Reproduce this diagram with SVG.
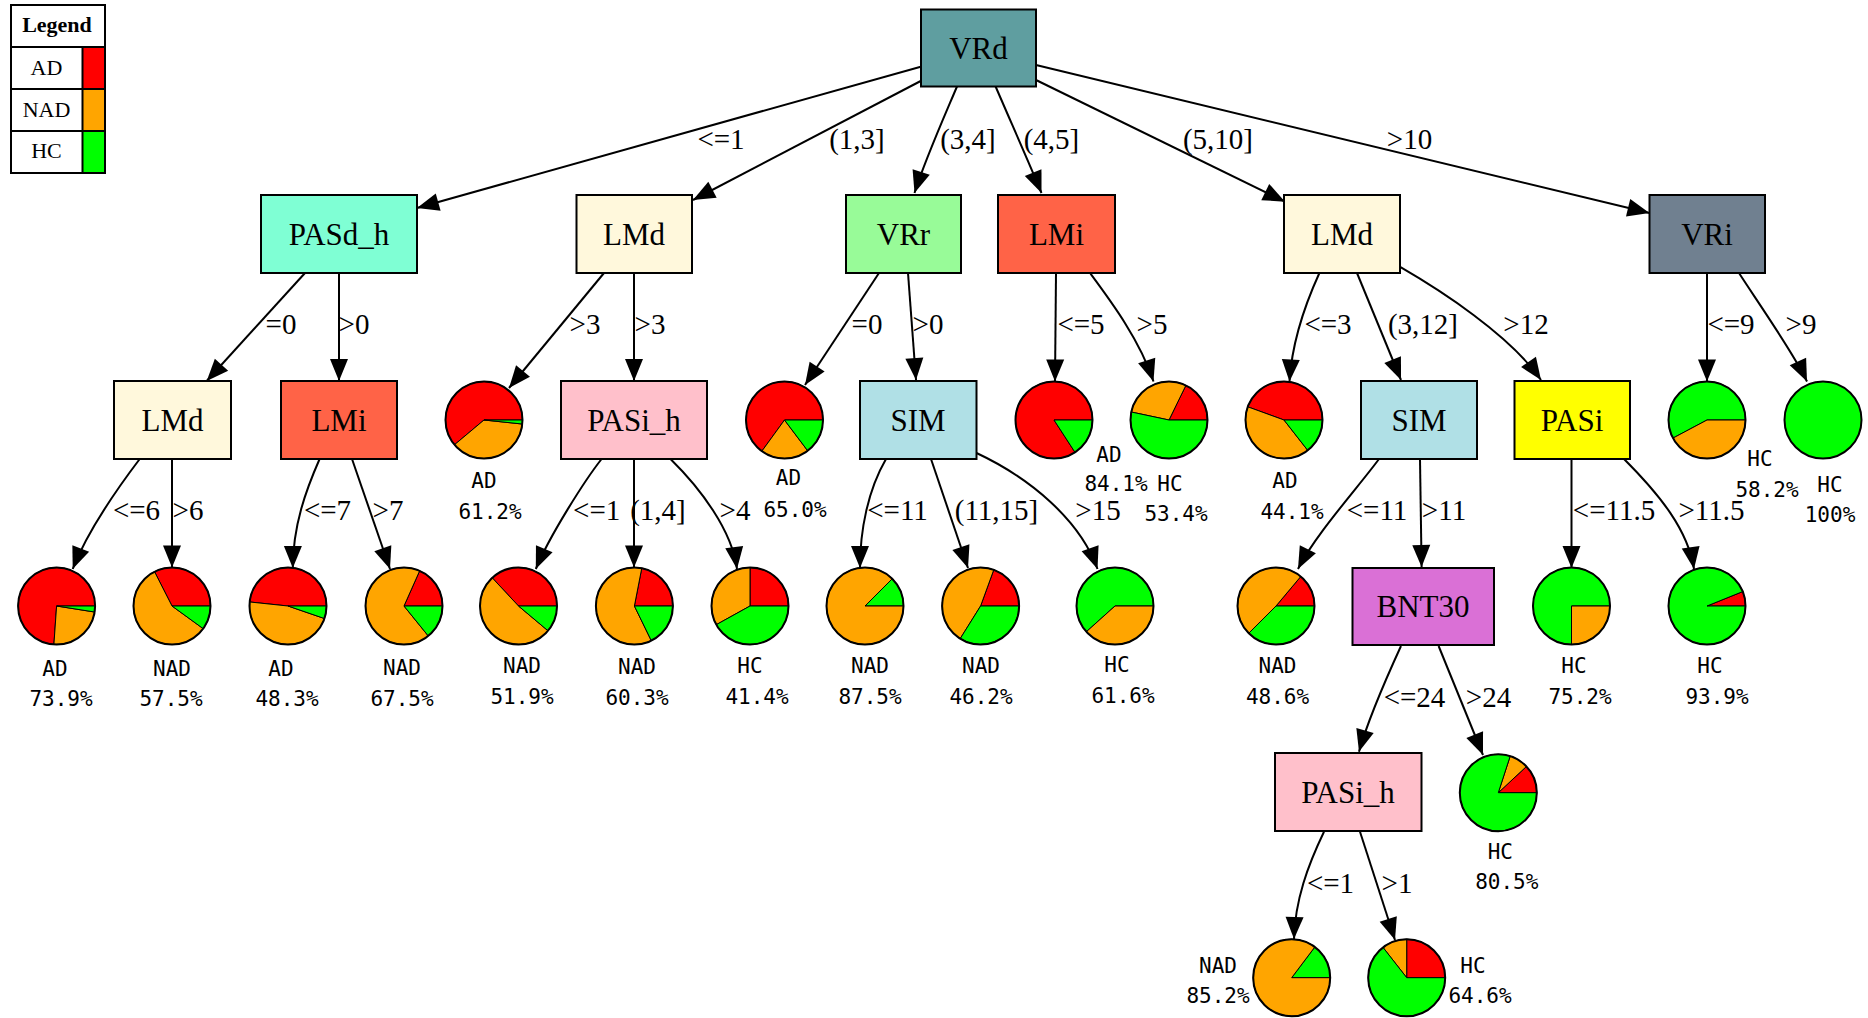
<svg xmlns="http://www.w3.org/2000/svg" width="1868" height="1018" viewBox="0 0 1868 1018">
<style>
.bx{stroke:#000;stroke-width:2}
.nl{font-family:"Liberation Serif",serif;font-size:31px;text-anchor:middle;fill:#000}
.el{font-family:"Liberation Serif",serif;font-size:29px;text-anchor:middle;fill:#000}
.pl{font-family:"DejaVu Sans Mono",monospace;font-size:21px;text-anchor:middle;fill:#000}
.lg{font-family:"Liberation Serif",serif;font-size:22px;text-anchor:middle;fill:#000}
.e{fill:none;stroke:#000;stroke-width:2;marker-end:url(#ah)}
.r{fill:#ff0000;stroke:#000;stroke-width:1}
.o{fill:#ffa500;stroke:#000;stroke-width:1}
.g{fill:#00ff00;stroke:#000;stroke-width:1}
.pc{fill:none;stroke:#000;stroke-width:2}
</style>
<defs>
<marker id="ah" markerWidth="22" markerHeight="18" refX="22" refY="9" orient="auto" markerUnits="userSpaceOnUse" overflow="visible"><path d="M0,0 L22,9 L0,18 z" fill="#000"/></marker>
</defs>
<rect width="1868" height="1018" fill="#fff"/>

<g id="legend">
<rect x="83" y="47" width="22" height="42" fill="#ff0000"/>
<rect x="83" y="89" width="22" height="42" fill="#ffa500"/>
<rect x="83" y="131" width="22" height="42" fill="#00ff00"/>
<rect x="11" y="5" width="94" height="168" fill="none" stroke="#000" stroke-width="2"/>
<path d="M11 47H105M11 89H105M11 131H105M82.5 47V173" stroke="#000" stroke-width="2" fill="none"/>
<text class="lg" x="57" y="32" font-weight="bold">Legend</text>
<text class="lg" x="46.5" y="75">AD</text>
<text class="lg" x="46.5" y="116.5">NAD</text>
<text class="lg" x="46.5" y="157.5">HC</text>
</g>

<g id="connectors">
<path class="e" d="M920.7 66.7L417 208"/>
<path class="e" d="M920.7 81L693 200"/>
<path class="e" d="M957 86.5C945 115 925 160 914.5 193"/>
<path class="e" d="M995.6 86.5C1010 120 1030 165 1041.5 193"/>
<path class="e" d="M1036 80L1285 201.7"/>
<path class="e" d="M1036 65L1649.5 213"/>
<path class="e" d="M305 273L206.7 381"/>
<path class="e" d="M339 273L339 381"/>
<path class="e" d="M604 273L509 388"/>
<path class="e" d="M634 273L634 381"/>
<path class="e" d="M879 273L805 385"/>
<path class="e" d="M908 273L916 380"/>
<path class="e" d="M1056 273L1055 381.5"/>
<path class="e" d="M1090 273C1110 300 1140 340 1153.5 381.5"/>
<path class="e" d="M1319.4 273C1308 298 1292 340 1289.5 381.5"/>
<path class="e" d="M1357 273L1401 380"/>
<path class="e" d="M1399.7 266.7C1440 290 1510 335 1541 380"/>
<path class="e" d="M1707 273L1707 381.5"/>
<path class="e" d="M1739 273C1755 298 1795 355 1807 381.5"/>
<path class="e" d="M139.7 459C120 485 88 530 72.7 569"/>
<path class="e" d="M172 459L172 567.5"/>
<path class="e" d="M319.6 459C306 490 293 525 292.8 568"/>
<path class="e" d="M352 459L390 569"/>
<path class="e" d="M601.6 459C585 480 550 535 535.8 569"/>
<path class="e" d="M634 459L634 567.5"/>
<path class="e" d="M670.5 459C700 488 732 530 737 569"/>
<path class="e" d="M886 459C868 490 860 530 860 568"/>
<path class="e" d="M931 459L968 568"/>
<path class="e" d="M976.5 453C1030 478 1080 520 1097.5 569"/>
<path class="e" d="M1379 459C1360 485 1315 535 1298 569"/>
<path class="e" d="M1420 459L1421.6 567"/>
<path class="e" d="M1571.5 459L1571.5 568"/>
<path class="e" d="M1624 459C1660 495 1688 530 1694 569"/>
<path class="e" d="M1401 646C1390 670 1368 720 1359 751.7"/>
<path class="e" d="M1438.6 646L1483 755"/>
<path class="e" d="M1324 831.7C1308 865 1295 900 1294 939"/>
<path class="e" d="M1360 831.7L1395 940"/>
<text class="el" x="721" y="148.5">&lt;=1</text>
<text class="el" x="857" y="148.5">(1,3]</text>
<text class="el" x="968" y="148.5">(3,4]</text>
<text class="el" x="1051.5" y="148.5">(4,5]</text>
<text class="el" x="1218" y="148.5">(5,10]</text>
<text class="el" x="1409.5" y="148.5">&gt;10</text>
<text class="el" x="281" y="333.5">=0</text>
<text class="el" x="354" y="333.5">&gt;0</text>
<text class="el" x="585" y="333.5">&gt;3</text>
<text class="el" x="650" y="333.5">&gt;3</text>
<text class="el" x="867" y="333.5">=0</text>
<text class="el" x="928" y="333.5">&gt;0</text>
<text class="el" x="1081" y="333.5">&lt;=5</text>
<text class="el" x="1152" y="333.5">&gt;5</text>
<text class="el" x="1328" y="333.5">&lt;=3</text>
<text class="el" x="1423" y="333.5">(3,12]</text>
<text class="el" x="1526" y="333.5">&gt;12</text>
<text class="el" x="1731" y="333.5">&lt;=9</text>
<text class="el" x="1801" y="333.5">&gt;9</text>
<text class="el" x="136.5" y="520">&lt;=6</text>
<text class="el" x="188" y="520">&gt;6</text>
<text class="el" x="327.5" y="520">&lt;=7</text>
<text class="el" x="388" y="520">&gt;7</text>
<text class="el" x="596.7" y="520">&lt;=1</text>
<text class="el" x="658" y="520">(1,4]</text>
<text class="el" x="735" y="520">&gt;4</text>
<text class="el" x="897.5" y="520">&lt;=11</text>
<text class="el" x="996.5" y="520">(11,15]</text>
<text class="el" x="1098" y="520">&gt;15</text>
<text class="el" x="1377" y="520">&lt;=11</text>
<text class="el" x="1444" y="520">&gt;11</text>
<text class="el" x="1614" y="520">&lt;=11.5</text>
<text class="el" x="1711.5" y="520">&gt;11.5</text>
<text class="el" x="1414.5" y="707">&lt;=24</text>
<text class="el" x="1488.5" y="707">&gt;24</text>
<text class="el" x="1330.5" y="893">&lt;=1</text>
<text class="el" x="1397" y="893">&gt;1</text>
</g>

<g id="n_VRd"><rect class="bx" x="921" y="9.5" width="115" height="77" fill="#5f9ea0"/><text class="nl" x="978.5" y="58.5">VRd</text></g>
<g id="n_PASd_h"><rect class="bx" x="261" y="195" width="156" height="78" fill="#7fffd4"/><text class="nl" x="339" y="244.5">PASd_h</text></g>
<g id="n_LMd1"><rect class="bx" x="576.5" y="195" width="115.5" height="78" fill="#fff8dc"/><text class="nl" x="634" y="244.5">LMd</text></g>
<g id="n_VRr"><rect class="bx" x="846" y="195" width="115" height="78" fill="#98fb98"/><text class="nl" x="903.5" y="244.5">VRr</text></g>
<g id="n_LMi1"><rect class="bx" x="998" y="195" width="117" height="78" fill="#ff6347"/><text class="nl" x="1056.5" y="244.5">LMi</text></g>
<g id="n_LMd3"><rect class="bx" x="1284" y="195" width="116" height="78" fill="#fff8dc"/><text class="nl" x="1342" y="244.5">LMd</text></g>
<g id="n_VRi"><rect class="bx" x="1649.5" y="195" width="115.5" height="78" fill="#708090"/><text class="nl" x="1707" y="244.5">VRi</text></g>
<g id="n_LMd2"><rect class="bx" x="114" y="381" width="117" height="78" fill="#fff8dc"/><text class="nl" x="172.5" y="430.5">LMd</text></g>
<g id="n_LMi2"><rect class="bx" x="281" y="381" width="116" height="78" fill="#ff6347"/><text class="nl" x="339" y="430.5">LMi</text></g>
<g id="n_PASi_h1"><rect class="bx" x="561" y="381" width="146" height="78" fill="#ffc0cb"/><text class="nl" x="634" y="430.5">PASi_h</text></g>
<g id="n_SIM1"><rect class="bx" x="860" y="381" width="116.5" height="78" fill="#b0e0e6"/><text class="nl" x="918" y="430.5">SIM</text></g>
<g id="n_SIM2"><rect class="bx" x="1361" y="381" width="116" height="78" fill="#b0e0e6"/><text class="nl" x="1419" y="430.5">SIM</text></g>
<g id="n_PASi"><rect class="bx" x="1514.5" y="381" width="115.5" height="78" fill="#ffff00"/><text class="nl" x="1572" y="430.5">PASi</text></g>
<g id="n_BNT30"><rect class="bx" x="1352.5" y="568" width="141.5" height="77" fill="#da70d6"/><text class="nl" x="1423" y="617">BNT30</text></g>
<g id="n_PASi_h2"><rect class="bx" x="1275" y="753" width="146.5" height="78" fill="#ffc0cb"/><text class="nl" x="1348" y="802.5">PASi_h</text></g>

<g id="p_L1" transform="translate(484,420)">
<path class="r" d="M0 0L38.5 0A38.5 38.5 0 1 0 -29.49 24.75Z"/>
<path class="o" d="M0 0L-29.49 24.75A38.5 38.5 0 0 0 38.29 4.02Z"/>
<path class="g" d="M0 0L38.29 4.02A38.5 38.5 0 0 0 38.5 0Z"/>
<circle class="pc" r="38.5"/>
<text class="pl" x="0" y="68">AD</text><text class="pl" x="6" y="99">61.2%</text>
</g>
<g id="p_L2" transform="translate(784.5,420)">
<path class="r" d="M0 0L38.5 0A38.5 38.5 0 1 0 -22.63 31.15Z"/>
<path class="o" d="M0 0L-22.63 31.15A38.5 38.5 0 0 0 23.17 30.75Z"/>
<path class="g" d="M0 0L23.17 30.75A38.5 38.5 0 0 0 38.5 0Z"/>
<circle class="pc" r="38.5"/>
<text class="pl" x="4" y="65">AD</text><text class="pl" x="10.5" y="96.5">65.0%</text>
</g>
<g id="p_L3" transform="translate(1054,420)">
<path class="r" d="M0 0L38.5 0A38.5 38.5 0 1 0 20.97 32.29Z"/>
<path class="g" d="M0 0L20.97 32.29A38.5 38.5 0 0 0 38.5 0Z"/>
<circle class="pc" r="38.5"/>
<text class="pl" x="55" y="41.5">AD</text><text class="pl" x="62" y="71">84.1%</text>
</g>
<g id="p_L4" transform="translate(1169,420)">
<path class="r" d="M0 0L38.5 0A38.5 38.5 0 0 0 16.88 -34.6Z"/>
<path class="o" d="M0 0L16.88 -34.6A38.5 38.5 0 0 0 -37.66 -8Z"/>
<path class="g" d="M0 0L-37.66 -8A38.5 38.5 0 1 0 38.5 0Z"/>
<circle class="pc" r="38.5"/>
<text class="pl" x="1" y="71">HC</text><text class="pl" x="7" y="101">53.4%</text>
</g>
<g id="p_L5" transform="translate(1284,420)">
<path class="r" d="M0 0L38.5 0A38.5 38.5 0 0 0 -36.18 -13.17Z"/>
<path class="o" d="M0 0L-36.18 -13.17A38.5 38.5 0 0 0 23.7 30.34Z"/>
<path class="g" d="M0 0L23.7 30.34A38.5 38.5 0 0 0 38.5 0Z"/>
<circle class="pc" r="38.5"/>
<text class="pl" x="1" y="68">AD</text><text class="pl" x="8" y="98.5">44.1%</text>
</g>
<g id="p_L6" transform="translate(1707,420)">
<path class="g" d="M0 0L38.5 0A38.5 38.5 0 1 0 -33.99 18.08Z"/>
<path class="o" d="M0 0L-33.99 18.08A38.5 38.5 0 0 0 38.5 0Z"/>
<circle class="pc" r="38.5"/>
<text class="pl" x="53" y="45.5">HC</text><text class="pl" x="60" y="76.5">58.2%</text>
</g>
<g id="p_L7" transform="translate(1823,420)">
<circle r="38.5" fill="#00ff00" stroke="#000" stroke-width="2"/>
<text class="pl" x="7" y="71.5">HC</text><text class="pl" x="7" y="101.5">100%</text>
</g>

<g id="p_P1" transform="translate(56.6,606)">
<path class="r" d="M0 0L38.5 0A38.5 38.5 0 1 0 -2.69 38.41Z"/>
<path class="o" d="M0 0L-2.69 38.41A38.5 38.5 0 0 0 38.03 6.02Z"/>
<path class="g" d="M0 0L38.03 6.02A38.5 38.5 0 0 0 38.5 0Z"/>
<circle class="pc" r="38.5"/>
<text class="pl" x="-1.6" y="69.5">AD</text><text class="pl" x="4.4" y="100">73.9%</text>
</g>
<g id="p_P2" transform="translate(172,606)">
<path class="r" d="M0 0L38.5 0A38.5 38.5 0 0 0 -17.48 -34.3Z"/>
<path class="o" d="M0 0L-17.48 -34.3A38.5 38.5 0 1 0 31.15 22.63Z"/>
<path class="g" d="M0 0L31.15 22.63A38.5 38.5 0 0 0 38.5 0Z"/>
<circle class="pc" r="38.5"/>
<text class="pl" x="0" y="69.5">NAD</text><text class="pl" x="-1" y="100">57.5%</text>
</g>
<g id="p_P3" transform="translate(288,606)">
<path class="r" d="M0 0L38.5 0A38.5 38.5 0 0 0 -38.29 -4.02Z"/>
<path class="o" d="M0 0L-38.29 -4.02A38.5 38.5 0 0 0 36.4 12.53Z"/>
<path class="g" d="M0 0L36.4 12.53A38.5 38.5 0 0 0 38.5 0Z"/>
<circle class="pc" r="38.5"/>
<text class="pl" x="-7" y="69.5">AD</text><text class="pl" x="-1" y="100">48.3%</text>
</g>
<g id="p_P4" transform="translate(404,606)">
<path class="r" d="M0 0L38.5 0A38.5 38.5 0 0 0 15.66 -35.17Z"/>
<path class="o" d="M0 0L15.66 -35.17A38.5 38.5 0 1 0 24.23 29.92Z"/>
<path class="g" d="M0 0L24.23 29.92A38.5 38.5 0 0 0 38.5 0Z"/>
<circle class="pc" r="38.5"/>
<text class="pl" x="-2" y="69">NAD</text><text class="pl" x="-2" y="99.5">67.5%</text>
</g>
<g id="p_P5" transform="translate(518.5,606)">
<path class="r" d="M0 0L38.5 0A38.5 38.5 0 0 0 -26.26 -28.16Z"/>
<path class="o" d="M0 0L-26.26 -28.16A38.5 38.5 0 1 0 29.49 24.75Z"/>
<path class="g" d="M0 0L29.49 24.75A38.5 38.5 0 0 0 38.5 0Z"/>
<circle class="pc" r="38.5"/>
<text class="pl" x="3.5" y="67">NAD</text><text class="pl" x="3.5" y="97.5">51.9%</text>
</g>
<g id="p_P6" transform="translate(634.4,606)">
<path class="r" d="M0 0L38.5 0A38.5 38.5 0 0 0 7.35 -37.79Z"/>
<path class="o" d="M0 0L7.35 -37.79A38.5 38.5 0 1 0 16.88 34.6Z"/>
<path class="g" d="M0 0L16.88 34.6A38.5 38.5 0 0 0 38.5 0Z"/>
<circle class="pc" r="38.5"/>
<text class="pl" x="2.6" y="68">NAD</text><text class="pl" x="2.6" y="98.5">60.3%</text>
</g>
<g id="p_P7" transform="translate(750,606)">
<path class="r" d="M0 0L38.5 0A38.5 38.5 0 0 0 0 -38.5Z"/>
<path class="o" d="M0 0L0 -38.5A38.5 38.5 0 0 0 -33.67 18.67Z"/>
<path class="g" d="M0 0L-33.67 18.67A38.5 38.5 0 0 0 38.5 0Z"/>
<circle class="pc" r="38.5"/>
<text class="pl" x="0" y="67">HC</text><text class="pl" x="7" y="97.5">41.4%</text>
</g>
<g id="p_P8" transform="translate(865,606)">
<path class="g" d="M0 0L38.5 0A38.5 38.5 0 0 0 27.22 -27.22Z"/>
<path class="o" d="M0 0L27.22 -27.22A38.5 38.5 0 1 0 38.5 0Z"/>
<circle class="pc" r="38.5"/>
<text class="pl" x="5" y="67">NAD</text><text class="pl" x="5" y="97.5">87.5%</text>
</g>
<g id="p_P9" transform="translate(980.6,606)">
<path class="r" d="M0 0L38.5 0A38.5 38.5 0 0 0 13.17 -36.18Z"/>
<path class="o" d="M0 0L13.17 -36.18A38.5 38.5 0 0 0 -20.4 32.65Z"/>
<path class="g" d="M0 0L-20.4 32.65A38.5 38.5 0 0 0 38.5 0Z"/>
<circle class="pc" r="38.5"/>
<text class="pl" x="0.4" y="67">NAD</text><text class="pl" x="0.4" y="97.5">46.2%</text>
</g>
<g id="p_P10" transform="translate(1115,606)">
<path class="g" d="M0 0L38.5 0A38.5 38.5 0 1 0 -28.61 25.76Z"/>
<path class="o" d="M0 0L-28.61 25.76A38.5 38.5 0 0 0 38.5 0Z"/>
<circle class="pc" r="38.5"/>
<text class="pl" x="2" y="66">HC</text><text class="pl" x="8" y="96.5">61.6%</text>
</g>
<g id="p_P11" transform="translate(1276,606)">
<path class="r" d="M0 0L38.5 0A38.5 38.5 0 0 0 24.75 -29.49Z"/>
<path class="o" d="M0 0L24.75 -29.49A38.5 38.5 0 0 0 -27.22 27.22Z"/>
<path class="g" d="M0 0L-27.22 27.22A38.5 38.5 0 0 0 38.5 0Z"/>
<circle class="pc" r="38.5"/>
<text class="pl" x="1.5" y="67">NAD</text><text class="pl" x="1.5" y="97.5">48.6%</text>
</g>
<g id="p_P12" transform="translate(1571.5,606)">
<path class="g" d="M0 0L38.5 0A38.5 38.5 0 1 0 0 38.5Z"/>
<path class="o" d="M0 0L0 38.5A38.5 38.5 0 0 0 38.5 0Z"/>
<circle class="pc" r="38.5"/>
<text class="pl" x="2.5" y="67">HC</text><text class="pl" x="8.5" y="97.5">75.2%</text>
</g>
<g id="p_P13" transform="translate(1707,606)">
<path class="r" d="M0 0L38.5 0A38.5 38.5 0 0 0 35.7 -14.42Z"/>
<path class="g" d="M0 0L35.7 -14.42A38.5 38.5 0 1 0 38.5 0Z"/>
<circle class="pc" r="38.5"/>
<text class="pl" x="3" y="67">HC</text><text class="pl" x="10" y="97.5">93.9%</text>
</g>
<g id="p_Q1" transform="translate(1498.3,792.7)">
<path class="r" d="M0 0L38.5 0A38.5 38.5 0 0 0 28.16 -26.26Z"/>
<path class="o" d="M0 0L28.16 -26.26A38.5 38.5 0 0 0 11.9 -36.62Z"/>
<path class="g" d="M0 0L11.9 -36.62A38.5 38.5 0 1 0 38.5 0Z"/>
<circle class="pc" r="38.5"/>
<text class="pl" x="2" y="66.3">HC</text><text class="pl" x="8.5" y="96.3">80.5%</text>
</g>
<g id="p_Q2" transform="translate(1291.7,977.7)">
<path class="g" d="M0 0L38.5 0A38.5 38.5 0 0 0 23.17 -30.75Z"/>
<path class="o" d="M0 0L23.17 -30.75A38.5 38.5 0 1 0 38.5 0Z"/>
<circle class="pc" r="38.5"/>
<text class="pl" x="-73.7" y="-5">NAD</text><text class="pl" x="-73.7" y="25.3">85.2%</text>
</g>
<g id="p_Q3" transform="translate(1406.7,977.7)">
<path class="r" d="M0 0L38.5 0A38.5 38.5 0 0 0 0 -38.5Z"/>
<path class="o" d="M0 0L0 -38.5A38.5 38.5 0 0 0 -23.7 -30.34Z"/>
<path class="g" d="M0 0L-23.7 -30.34A38.5 38.5 0 1 0 38.5 0Z"/>
<circle class="pc" r="38.5"/>
<text class="pl" x="66.3" y="-5">HC</text><text class="pl" x="73.3" y="25.3">64.6%</text>
</g>
</svg>
